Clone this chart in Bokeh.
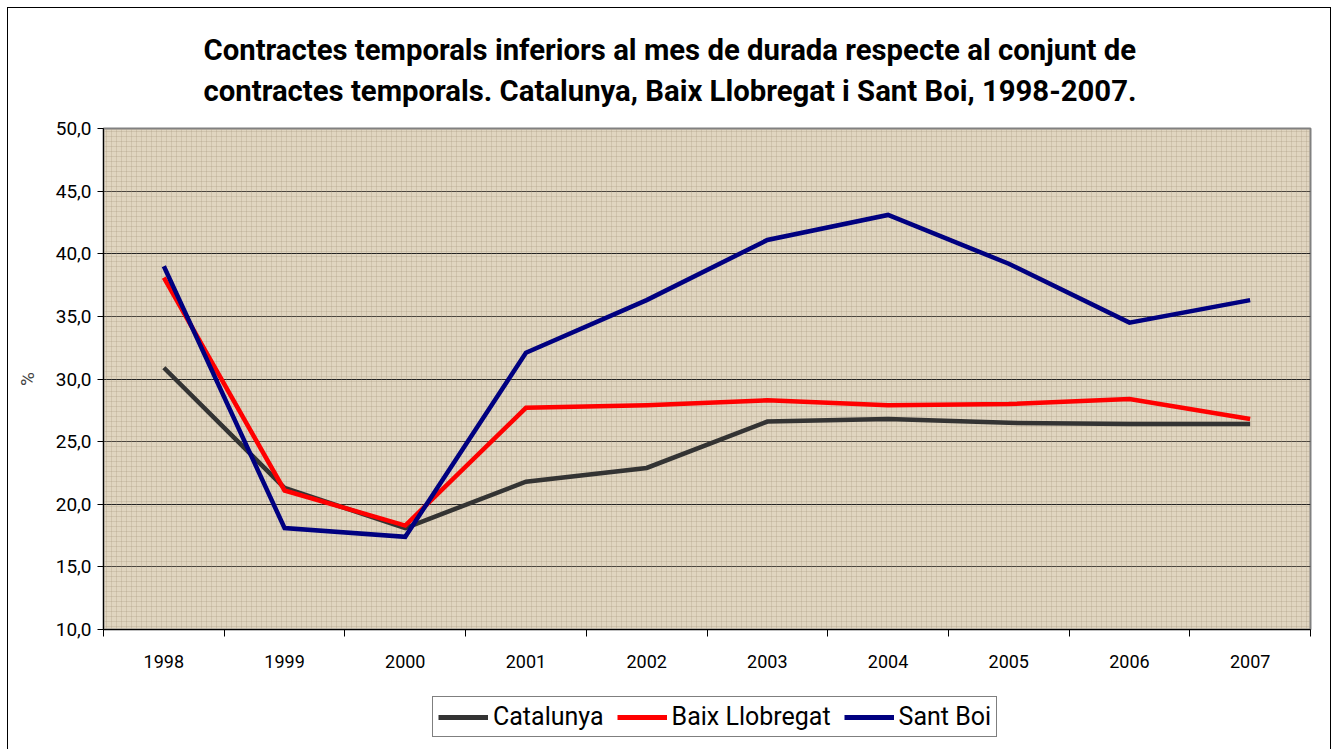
from bokeh.plotting import figure
from bokeh.layouts import column
from bokeh.models import Range1d, FixedTicker, Legend, LegendItem, Title, BoxAnnotation
from bokeh.embed import file_html
from bokeh.resources import INLINE

years = ["1998", "1999", "2000", "2001", "2002", "2003", "2004", "2005", "2006", "2007"]
catalunya = [30.9, 21.3, 18.1, 21.8, 22.9, 26.6, 26.8, 26.5, 26.4, 26.4]
baix_llobregat = [38.1, 21.1, 18.3, 27.7, 27.9, 28.3, 27.9, 28.0, 28.4, 26.8]
sant_boi = [39.0, 18.1, 17.4, 32.1, 36.3, 41.1, 43.1, 39.2, 34.5, 36.3]
y_ticks = [10, 15, 20, 25, 30, 35, 40, 45, 50]
series_names = ["Catalunya", "Baix Llobregat", "Sant Boi"]
series_colors = ["#333333", "#ff0000", "#000080"]
title_lines = ["Contractes temporals inferiors al mes de durada respecte al conjunt de",
               "contractes temporals. Catalunya, Baix Llobregat i Sant Boi, 1998-2007."]

xs = [i + 0.5 for i in range(len(years))]
series = [catalunya, baix_llobregat, sant_boi]

FONT = "Roboto"
W = 1322

p = figure(width=W, height=680, output_backend="svg", toolbar_location=None,
           x_range=Range1d(0, len(years)), y_range=Range1d(10, 50),
           min_border_left=95, min_border_right=20, min_border_top=120, min_border_bottom=59)

p.background_fill_color = "#e0d5c0"
p.border_fill_color = "white"
p.outline_line_color = "#808080"
p.outline_line_width = 2

# texture imitation
tex = BoxAnnotation(fill_color=None, line_color=None, hatch_pattern="+", hatch_color="#a89880",
                    hatch_alpha=0.3, hatch_scale=5, hatch_weight=1, level="underlay")
p.add_layout(tex)

# title (two lines)
title = Title(text="\n".join(title_lines), align="left", text_font=FONT,
              text_font_size="29.3px", text_font_style="bold", text_color="black",
              text_line_height=1.2, standoff=41, offset=100)
p.add_layout(title, "above")

renderers = []
for vals, col in zip(series, series_colors):
    r = p.line(xs, vals, line_color=col, line_width=4.5, line_join="miter")
    renderers.append(r)

# grid
p.xgrid.visible = False
p.ygrid.ticker = FixedTicker(ticks=y_ticks)
p.ygrid.grid_line_color = "#222222"
p.ygrid.grid_line_width = 1

# x axis
xa = p.xaxis[0]
xa.ticker = FixedTicker(ticks=xs, minor_ticks=list(range(len(years) + 1)))
xa.major_label_overrides = {x: y for x, y in zip(xs, years)}
xa.major_tick_line_color = None
xa.minor_tick_line_color = "black"
xa.minor_tick_out = 7
xa.minor_tick_in = 0
xa.axis_line_color = "black"
xa.major_label_text_font = FONT
xa.major_label_text_font_size = "18px"
xa.major_label_text_color = "black"
xa.major_label_standoff = 18

# y axis
ya = p.yaxis[0]
ya.ticker = FixedTicker(ticks=y_ticks)
ya.major_label_overrides = {v: f"{v:.1f}".replace(".", ",") for v in y_ticks}
ya.minor_tick_line_color = None
ya.major_tick_out = 6
ya.major_tick_in = 0
ya.axis_line_color = "black"
ya.major_label_text_font = FONT
ya.major_label_text_font_size = "19px"
ya.major_label_text_color = "black"
ya.major_label_standoff = 6
ya.axis_label = "%"
ya.axis_label_text_font = FONT
ya.axis_label_text_font_size = "19px"
ya.axis_label_text_font_style = "normal"
ya.axis_label_standoff = 14

# legend strip (separate figure below the chart; its frame aligns with the chart's frame)
lg = figure(width=W, height=62, output_backend="svg", toolbar_location=None,
            x_range=Range1d(0, len(years)), y_range=Range1d(0, 1),
            x_axis_location=None, y_axis_location=None,
            min_border_left=0, min_border_right=0, min_border_top=0, min_border_bottom=0)
lg.grid.visible = False
lg.outline_line_color = None
lg.background_fill_color = "white"
lg.border_fill_color = "white"

# same series drawn outside this strip's visible range, only to provide legend glyphs
legend_renderers = [lg.line(xs, vals, line_color=c, line_width=5) for vals, c in zip(series, series_colors)]
legend = Legend(items=[LegendItem(label=n, renderers=[r]) for n, r in zip(series_names, legend_renderers)],
                orientation="horizontal", location=(329, 13),
                label_text_font=FONT, label_text_font_size="25px", label_text_color="black",
                glyph_width=50, glyph_height=12, label_standoff=5, spacing=13,
                border_line_color="black", border_line_width=1,
                background_fill_color="white", padding=5, margin=0)
lg.add_layout(legend, "center")

layout = column(p, lg, spacing=0)
layout.styles = {"border": "1px solid black"}
layout.margin = (7, 0, 0, 7)

open("out.html", "w").write(file_html(layout, INLINE))
